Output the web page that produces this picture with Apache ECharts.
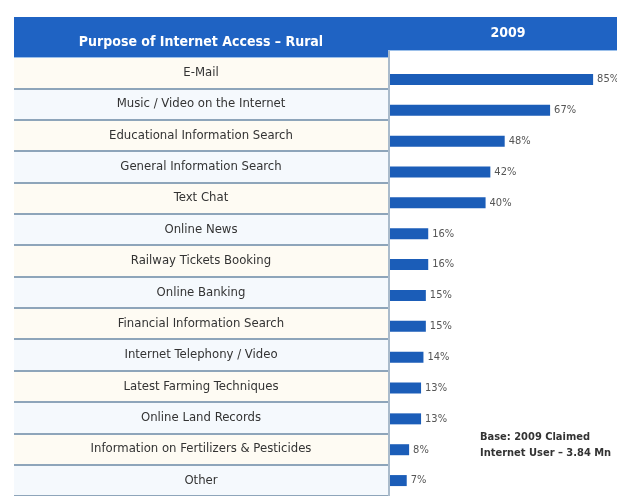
<!DOCTYPE html>
<html>
<head>
<meta charset="utf-8">
<script src="https://cdn.jsdelivr.net/npm/echarts@6/dist/echarts.min.js"></script>
<style>
  html, body { margin: 0; padding: 0; background: #fff; }
  #chart { width: 617px; height: 496px; }
</style>
</head>
<body>
<div id="chart"></div>
<script>
var purposes = [
    'E-Mail',
    'Music / Video on the Internet',
    'Educational Information Search',
    'General Information Search',
    'Text Chat',
    'Online News',
    'Railway Tickets Booking',
    'Online Banking',
    'Financial Information Search',
    'Internet Telephony / Video',
    'Latest Farming Techniques',
    'Online Land Records',
    'Information on Fertilizers & Pesticides',
    'Other'
];
var share2009 = [85, 67, 48, 42, 40, 16, 16, 15, 15, 14, 13, 13, 8, 7];
var tableTitle = 'Purpose of Internet Access \u2013 Rural';
var yearTitle = '2009';
var baseNote = ['Base: 2009 Claimed', 'Internet User \u2013 3.84 Mn'];

var narrow = '"Liberation Sans Narrow", "DejaVu Sans Condensed", "Liberation Sans", sans-serif';
var blue = '#1f63c3';

var myChart = echarts.init(document.getElementById('chart'));

var option = {
    backgroundColor: '#ffffff',
    animation: false,
    grid: [
        // table of purposes (left)
        { left: 14, top: 57, width: 374, height: 442 },
        // bars (right)
        { left: 390, top: 64, width: 227, height: 432 }
    ],
    xAxis: [
        { gridIndex: 0, type: 'value', min: 0, max: 1, show: false },
        { gridIndex: 1, type: 'value', min: 0, max: 95, show: false }
    ],
    yAxis: [
        {
            gridIndex: 0,
            type: 'category',
            inverse: true,
            data: purposes,
            axisLine: { show: false },
            axisTick: { show: false },
            axisLabel: {
                margin: -187,
                align: 'center',
                color: '#333',
                fontSize: 13,
                fontFamily: narrow
            },
            splitLine: { show: true, lineStyle: { color: '#8ea5ba', width: 2 } },
            splitArea: { show: true, areaStyle: { color: ['#fefbf3', '#f5f9fd'] } }
        },
        {
            gridIndex: 1,
            type: 'category',
            inverse: true,
            data: purposes,
            show: false
        }
    ],
    series: [
        {
            name: '2009',
            type: 'bar',
            xAxisIndex: 1,
            yAxisIndex: 1,
            data: share2009,
            barWidth: 11,
            itemStyle: { color: '#1b5db8' },
            label: {
                show: true,
                position: 'right',
                distance: 4,
                formatter: '{c}%',
                color: '#555',
                fontSize: 11,
                fontFamily: narrow
            }
        }
    ],
    graphic: [
        // header band
        { type: 'rect', shape: { x: 14, y: 17, width: 603, height: 33 }, style: { fill: blue }, z: 10 },
        { type: 'rect', shape: { x: 14, y: 50, width: 374, height: 7 }, style: { fill: blue }, z: 10 },
        { type: 'line', shape: { x1: 14, y1: 57.5, x2: 388, y2: 57.5 }, style: { stroke: '#9cc0ea', lineWidth: 1 }, z: 10 },
        { type: 'line', shape: { x1: 388, y1: 50.5, x2: 617, y2: 50.5 }, style: { stroke: '#9cc0ea', lineWidth: 1 }, z: 10 },
        {
            type: 'text', x: 201, y: 42, z: 11,
            style: {
                text: tableTitle, fill: '#fff', fontSize: 14, fontWeight: 'bold',
                fontFamily: narrow, align: 'center', verticalAlign: 'middle'
            }
        },
        {
            type: 'text', x: 508, y: 33, z: 11,
            style: {
                text: yearTitle, fill: '#fff', fontSize: 14, fontWeight: 'bold',
                fontFamily: narrow, align: 'center', verticalAlign: 'middle'
            }
        },
        // divider between table and bars
        { type: 'line', shape: { x1: 389, y1: 51, x2: 389, y2: 496 }, style: { stroke: '#8ea5ba', lineWidth: 1.5 }, z: 9 },
        {
            type: 'text', x: 480, y: 437,
            style: {
                text: baseNote[0], fill: '#333', fontSize: 11, fontWeight: 'bold',
                fontFamily: narrow, align: 'left', verticalAlign: 'middle'
            }
        },
        {
            type: 'text', x: 480, y: 453,
            style: {
                text: baseNote[1], fill: '#333', fontSize: 11, fontWeight: 'bold',
                fontFamily: narrow, align: 'left', verticalAlign: 'middle'
            }
        }
    ]
};

myChart.setOption(option);
</script>
</body>
</html>
